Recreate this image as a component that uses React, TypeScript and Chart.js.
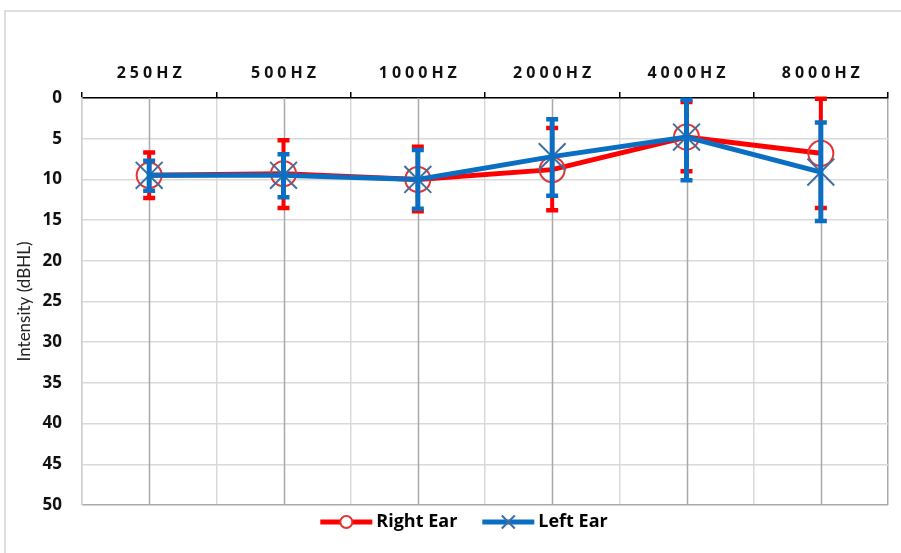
import React, { useEffect, useRef } from 'react';
import { Chart, registerables, CategoryScale } from 'chart.js';

Chart.register(...registerables);

class SpacedCategoryScale extends CategoryScale {
  static id = 'spacedCategory';
  static defaults = CategoryScale.defaults;
  drawLabels(chartArea: any) {
    const ctx = this.ctx as any;
    ctx.save();
    ctx.letterSpacing = '4px';
    ctx.translate(2, 0);
    super.drawLabels(chartArea);
    ctx.restore();
  }
}
Chart.register(SpacedCategoryScale as any);

// ---------- data ----------
const categories = ['250HZ', '500HZ', '1000HZ', '2000HZ', '4000HZ', '8000HZ'];
const seriesNames = ['Right Ear', 'Left Ear'];
const rightEar = [9.5, 9.3, 10.0, 8.8, 4.8, 6.8];
const leftEar = [9.5, 9.5, 10.0, 7.2, 4.8, 9.1];
const rightLow = [6.7, 5.2, 6.0, 3.7, 0.5, 0.1];
const rightHigh = [12.3, 13.5, 13.9, 13.8, 9.0, 13.5];
const leftLow = [7.7, 6.9, 6.4, 2.6, 0.2, 3.0];
const leftHigh = [11.4, 12.2, 13.6, 12.0, 10.1, 15.1];
const yTitle = 'Intensity (dBHL)';

const RED = '#FF0000';
const BLUE = '#0A6FC2';
const LABEL_FONT = '"Open Sans", "Noto Sans", sans-serif';

const centerLinesPlugin = {
  id: 'centerLines',
  beforeDatasetsDraw(chart: any) {
    const { ctx, chartArea } = chart;
    const xs = chart.scales.x;
    ctx.save();
    ctx.strokeStyle = '#a9a9a9';
    ctx.lineWidth = 1.5;
    categories.forEach((_, i) => {
      const x = Math.round(xs.getPixelForValue(i)) + 0.5;
      ctx.beginPath();
      ctx.moveTo(x, chartArea.top);
      ctx.lineTo(x, chartArea.bottom);
      ctx.stroke();
    });
    ctx.restore();
  },
};

const errorBarsPlugin = {
  id: 'errorBars',
  afterDatasetDraw(chart: any, args: any) {
    const ds: any = chart.data.datasets[args.index];
    if (!ds.errLow) return;
    const ys = chart.scales.y;
    const ctx = chart.ctx;
    ctx.save();
    ctx.strokeStyle = ds.errColor;
    ctx.lineCap = 'butt';
    args.meta.data.forEach((pt: any, i: number) => {
      const x = pt.x;
      const y1 = ys.getPixelForValue(ds.errLow[i]);
      const y2 = ys.getPixelForValue(ds.errHigh[i]);
      ctx.lineWidth = ds.errWidth;
      ctx.beginPath();
      ctx.moveTo(x, y1);
      ctx.lineTo(x, y2);
      ctx.stroke();
      ctx.lineWidth = 4.5;
      ctx.beginPath();
      ctx.moveTo(x - 6, y1);
      ctx.lineTo(x + 6, y1);
      ctx.moveTo(x - 6, y2);
      ctx.lineTo(x + 6, y2);
      ctx.stroke();
    });
    ctx.restore();
  },
};

const customLegendPlugin = {
  id: 'customLegend',
  afterDraw(chart: any) {
    const ctx = chart.ctx;
    const datasets = chart.data.datasets;
    const order = [0, 1];
    ctx.save();
    ctx.font = `bold 18px ${LABEL_FONT}`;
    const sampleW = 52;
    const gapText = 4;
    const gapItems = 25;
    const widths = order.map((i) => sampleW + gapText + ctx.measureText(datasets[i].label).width);
    const total = widths.reduce((a: number, b: number) => a + b, 0) + gapItems * (order.length - 1);
    let x = 464 - total / 2;
    const y = 522;
    order.forEach((i, k) => {
      const ds = datasets[i];
      ctx.strokeStyle = ds.borderColor;
      ctx.lineWidth = 5;
      ctx.beginPath();
      ctx.moveTo(x, y);
      ctx.lineTo(x + sampleW, y);
      ctx.stroke();
      const mx = x + sampleW / 2;
      ctx.lineWidth = 2;
      ctx.strokeStyle = ds.pointBorderColor;
      if (ds.pointStyle === 'circle') {
        ctx.fillStyle = '#fff';
        ctx.beginPath();
        ctx.arc(mx, y, 6, 0, Math.PI * 2);
        ctx.fill();
        ctx.stroke();
      } else {
        const r = 6.5;
        ctx.beginPath();
        ctx.moveTo(mx - r, y - r);
        ctx.lineTo(mx + r, y + r);
        ctx.moveTo(mx - r, y + r);
        ctx.lineTo(mx + r, y - r);
        ctx.stroke();
      }
      ctx.fillStyle = '#000';
      ctx.textBaseline = 'middle';
      ctx.textAlign = 'left';
      ctx.fillText(ds.label, x + sampleW + gapText, y);
      x += widths[k] + gapItems;
    });
    ctx.restore();
  },
};

export default function App() {
  const canvasRef = useRef<HTMLCanvasElement | null>(null);

  useEffect(() => {
    if (!canvasRef.current) return;
    const chart = new Chart(canvasRef.current, {
      type: 'line',
      data: {
        labels: categories,
        datasets: [
          {
            label: seriesNames[0],
            data: rightEar,
            borderColor: RED,
            borderWidth: 5,
            tension: 0,
            pointStyle: 'circle',
            pointRadius: 12.5,
            pointBorderWidth: 2,
            pointBorderColor: '#E23434',
            pointBackgroundColor: 'rgba(0,0,0,0)',
            order: 2,
            errLow: rightLow,
            errHigh: rightHigh,
            errColor: RED,
            errWidth: 4,
          } as any,
          {
            label: seriesNames[1],
            data: leftEar,
            borderColor: BLUE,
            borderWidth: 5,
            tension: 0,
            pointStyle: 'crossRot',
            pointRadius: 19,
            pointBorderWidth: 2,
            pointBorderColor: '#3E6FA3',
            pointBackgroundColor: 'rgba(0,0,0,0)',
            order: 1,
            errLow: leftLow,
            errHigh: leftHigh,
            errColor: BLUE,
            errWidth: 5,
          } as any,
        ],
      },
      options: {
        responsive: false,
        animation: false,
        events: [],
        layout: { autoPadding: false, padding: { left: 0, right: 13, top: 0, bottom: 48 } },
        plugins: {
          legend: { display: false },
          tooltip: { enabled: false },
        },
        scales: {
          x: {
            type: 'spacedCategory' as any,
            position: 'top',
            offset: true,
            grid: {
              offset: true,
              color: (c: any) => (c.type === 'tick' ? '#d9d9d9' : '#a9a9a9'),
              lineWidth: 1.5,
              tickColor: '#000',
              tickLength: 6,
              tickWidth: 1.5,
            },
            border: { color: '#000', width: 1.5 },
            ticks: {
              font: { family: LABEL_FONT, size: 16, weight: 'bold' },
              color: '#111',
              padding: 9,
              maxRotation: 0,
            },
            afterFit: (s: any) => {
              s.height = 98;
              s.paddingLeft = 0;
              s.paddingRight = 0;
            },
          } as any,
          y: {
            reverse: true,
            min: 0,
            max: 50,
            ticks: {
              stepSize: 5,
              font: { family: LABEL_FONT, size: 17, weight: 'bold' },
              color: '#111',
              padding: 20,
            },
            grid: {
              color: (c: any) => (c.tick && c.tick.value === 50 ? '#a9a9a9' : '#d9d9d9'),
              lineWidth: 1.5,
              drawTicks: false,
            },
            border: { color: '#cfcfcf', width: 1.5 },
            title: {
              display: true,
              text: yTitle,
              font: { family: 'Lato, "Open Sans", sans-serif', size: 17, weight: 'normal' },
              color: '#222',
              padding: { top: 14, bottom: 0 },
            },
            afterFit: (s: any) => {
              s.width = 82;
              s.paddingTop = 0;
              s.paddingBottom = 0;
            },
          },
        },
      },
      plugins: [centerLinesPlugin, errorBarsPlugin, customLegendPlugin],
    });
    return () => chart.destroy();
  }, []);

  return (
    <div style={{ position: 'absolute', left: 0, top: 0, width: 901, height: 553, overflow: 'hidden', background: '#fff' }}>
      <div
        style={{
          position: 'absolute',
          left: 4,
          top: 10,
          width: 901,
          height: 553,
          borderLeft: '2px solid #dedede',
          borderTop: '2px solid #dedede',
        }}
      />
      <canvas
        ref={canvasRef}
        width={901}
        height={553}
        style={{ position: 'absolute', left: 0, top: 0, width: 901, height: 553 }}
      />
    </div>
  );
}
